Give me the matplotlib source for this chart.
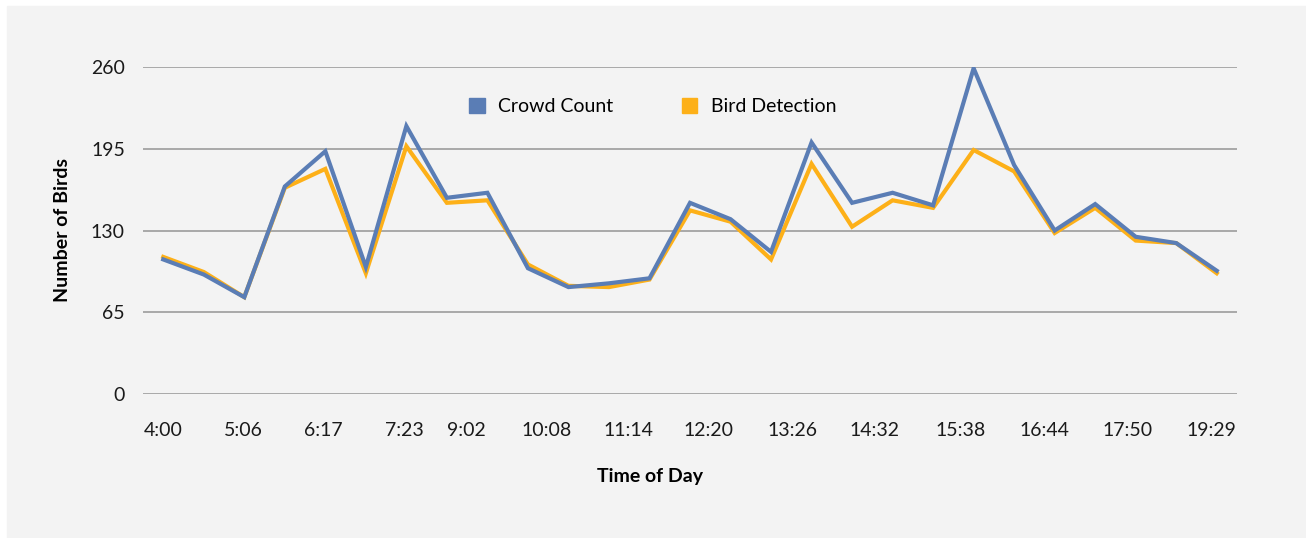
import matplotlib.pyplot as plt
from matplotlib.patches import Rectangle, Patch
import numpy as np

# time of day labels shown under the axis
tick_labels = ['4:00', '5:06', '6:17', '7:23', '9:02', '10:08', '11:14',
               '12:20', '13:26', '14:32', '15:38', '16:44', '17:50', '19:29']

crowd_count = [107, 95, 77, 165, 193, 101, 213, 156, 160, 100,
               85, 88, 92, 152, 139, 113, 200, 152, 160, 150,
               259, 182, 130, 151, 125, 120, 98]
bird_detection = [109, 97, 77, 164, 179, 96, 197, 152, 154, 103,
                  86, 85, 91, 146, 137, 107, 183, 133, 154, 148,
                  194, 177, 128, 148, 122, 120, 96]

# where each time label sits along the reading index
tick_pos = [0, 1.98, 3.95, 5.95, 7.47, 9.47, 11.47, 13.45, 15.53,
            17.56, 19.68, 21.75, 23.8, 25.88]

blue = '#5a7db5'
orange = '#fdb018'
bg = '#f3f3f3'

plt.rcParams['font.family'] = ['Lato', 'DejaVu Sans']

fig = plt.figure(figsize=(13.06, 5.38), dpi=100, facecolor='white')
fig.patches.append(Rectangle((7 / 1306, 0), 1, 1 - 6 / 538,
                             transform=fig.transFigure, color=bg, zorder=-10))

ax = fig.add_axes([143 / 1306, 1 - 394 / 538, 1094 / 1306, 327 / 538])
ax.set_facecolor(bg)

x = np.arange(len(crowd_count))
ax.plot(x, bird_detection, color=orange, lw=3.0, zorder=3, solid_joinstyle='miter')
ax.plot(x, crowd_count, color=blue, lw=3.0, zorder=4, solid_joinstyle='miter')

ax.set_xlim(-0.5, len(x) - 0.5)
ax.set_ylim(0, 260)
ax.set_yticks([0, 65, 130, 195, 260])
ax.set_xticks(tick_pos)
ax.set_xticklabels(tick_labels)
ax.grid(axis='y', color='#a3a3a3', lw=1.3)
ax.set_axisbelow(True)
for s in ax.spines.values():
    s.set_visible(False)
ax.tick_params(length=0, labelsize=14, colors='#1a1a1a')
ax.tick_params(axis='y', pad=13)
ax.tick_params(axis='x', pad=20)

ax.set_ylabel('Number of Birds', fontsize=14, fontweight='bold', labelpad=14)
ax.set_xlabel('Time of Day', fontsize=14, fontweight='bold')
ax.xaxis.set_label_coords(0.463, -0.225)

handles = [Patch(color=blue, label='Crowd Count'),
           Patch(color=orange, label='Bird Detection')]
ax.legend(handles=handles, loc='center', bbox_to_anchor=(0.466, 0.88), ncol=2,
          frameon=False, fontsize=14, handlelength=0.8, handleheight=0.8,
          handletextpad=0.7, columnspacing=3.5)

plt.savefig('out.png', dpi=100, facecolor=fig.get_facecolor())
